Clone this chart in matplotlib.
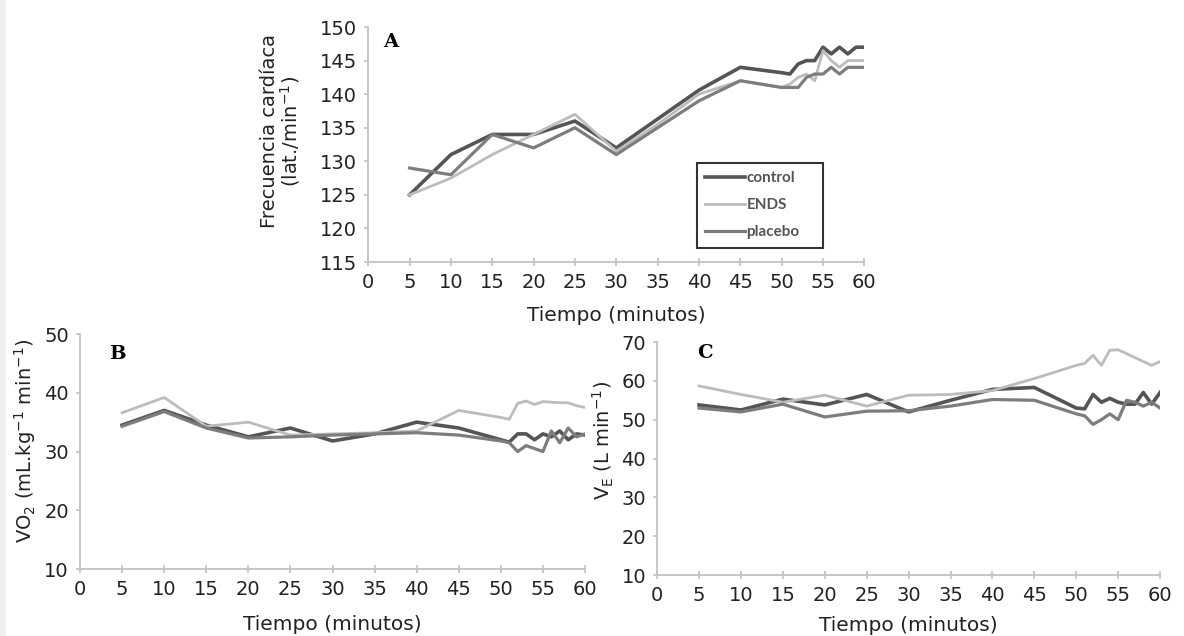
import matplotlib
matplotlib.use('Agg')
import matplotlib.pyplot as plt
from matplotlib.patches import Rectangle

plt.rcParams['font.family'] = ['DejaVu Sans']
plt.rcParams['mathtext.default'] = 'regular'

# ── Data ──
minutos = [5, 10, 15, 20, 25, 30, 35, 40, 45, 50, 51, 52, 53, 54, 55, 56, 57, 58, 59, 60]

# A: frecuencia cardiaca
fc_control = [125, 131, 134, 134, 136, 132, 136.3, 140.6, 144, 143.2, 143, 144.5, 145, 145, 147, 146, 147, 146, 147, 147]
fc_ends    = [125, 127.5, 131, 134, 137, 131.5, 135.5, 140, 142, 141, 141.5, 142.5, 143, 142, 146.5, 145, 144, 145, 145, 145]
fc_placebo = [129, 128, 134, 132, 135, 131, 135, 139, 142, 141, 141, 141, 142.5, 143, 143, 144, 143, 144, 144, 144]

# B: VO2
vo2_control = [34.5, 37, 34.5, 32.5, 34, 31.8, 33, 35, 34, 32, 31.6, 33, 33, 32, 33, 32.5, 33.5, 32, 33, 32.8]
vo2_ends    = [36.6, 39.2, 34.3, 35, 32.8, 33, 33.2, 33.5, 37, 35.8, 35.5, 38.2, 38.6, 38, 38.5, 38.4, 38.3, 38.3, 37.8, 37.5]
vo2_placebo = [34.3, 36.8, 34, 32.3, 32.5, 32.8, 33, 33.2, 32.8, 31.8, 31.5, 30, 31, 30.5, 30, 33.5, 31.5, 34, 32.5, 33]

# C: VE
ve_control = [53.8, 52.5, 55.3, 53.8, 56.5, 52, 55, 57.8, 58.3, 53, 52.8, 56.5, 54.5, 55.5, 54.5, 54, 54, 57, 54, 57]
ve_ends    = [58.7, 56.5, 54.5, 56.3, 53.5, 56.3, 56.5, 57.5, 60.6, 64, 64.5, 66.6, 64, 67.9, 68, 67, 66, 65, 64, 65]
ve_placebo = [53, 52, 54, 50.7, 52.2, 52.3, 53.5, 55.2, 55, 51.5, 51, 48.8, 50, 51.5, 50, 55, 54.5, 53.5, 54.5, 53]

xticks = list(range(0, 61, 5))

C_CONTROL = '#555555'
C_ENDS = '#bcbcbc'
C_PLACEBO = '#7d7d7d'
SPINE = '#c2c2c2'
TXT = '#222222'


def style_axis(ax, ylim, yticks):
    ax.set_xlim(0, 60)
    ax.set_ylim(*ylim)
    ax.set_xticks(xticks)
    ax.set_yticks(yticks)
    ax.tick_params(labelsize=14, colors=SPINE, labelcolor=TXT, width=1.2)
    ax.tick_params(axis='x', direction='inout', length=6, pad=5)
    ax.tick_params(axis='y', direction='out', length=3, pad=5)
    for s in ['top', 'right']:
        ax.spines[s].set_visible(False)
    for s in ['left', 'bottom']:
        ax.spines[s].set_color(SPINE)
        ax.spines[s].set_linewidth(1.3)


def draw(ax, ctrl, ends, plac):
    ax.plot(minutos, ctrl, color=C_CONTROL, lw=2.6, label='control', solid_joinstyle='round')
    ax.plot(minutos, ends, color=C_ENDS, lw=2.0, label='ENDS', solid_joinstyle='round')
    ax.plot(minutos, plac, color=C_PLACEBO, lw=2.3, label='placebo', solid_joinstyle='round')


fig = plt.figure(figsize=(11.84, 6.36), dpi=100)
# light strip at the left edge
fig.patches.append(Rectangle((0, 0), 6 / 1184, 1, transform=fig.transFigure,
                             facecolor='#f0f0f0', edgecolor='none'))

# ── Panel A ──
axA = fig.add_axes([0.311, 0.588, 0.419, 0.3695])
draw(axA, fc_control, fc_ends, fc_placebo)
style_axis(axA, (115, 150), range(115, 151, 5))
axA.set_xlabel('Tiempo (minutos)', fontsize=14.5, color=TXT)
axA.xaxis.set_label_coords(0.5, -0.185)
axA.set_ylabel('Frecuencia cardíaca\n(lat./min$^{-1}$)', fontsize=14, color=TXT,
               linespacing=0.95)
axA.yaxis.set_label_coords(-0.133, 0.557)
axA.text(0.045, 0.935, 'A', transform=axA.transAxes, fontsize=14, fontweight='bold',
         family='DejaVu Serif', va='center', ha='center')
leg = axA.legend(loc='upper left', bbox_to_anchor=(0.662, 0.423, 0.255, 0.0), mode='expand',
                 prop={'family': 'Lato', 'size': 11, 'weight': 'bold'},
                 frameon=True, fancybox=False, edgecolor='black',
                 handlelength=2.6, handletextpad=0.1, labelspacing=0.86, borderpad=0.55,
                 borderaxespad=0)
leg.get_frame().set_linewidth(1.5)
for t in leg.get_texts():
    t.set_color('#555555')

# ── Panel B ──
axB = fig.add_axes([0.0676, 0.1053, 0.4265, 0.3695])
draw(axB, vo2_control, vo2_ends, vo2_placebo)
style_axis(axB, (10, 50), range(10, 51, 10))
axB.set_xlabel('Tiempo (minutos)', fontsize=14.5, color=TXT)
axB.xaxis.set_label_coords(0.5, -0.195)
axB.set_ylabel('VO$_2$ (mL.kg$^{-1}$ min$^{-1}$)', fontsize=14, color=TXT)
axB.yaxis.set_label_coords(-0.083, 0.545)
axB.text(0.073, 0.915, 'B', transform=axB.transAxes, fontsize=14, fontweight='bold',
         family='DejaVu Serif', va='center', ha='center')

# ── Panel C ──
axC = fig.add_axes([0.555, 0.0959, 0.4248, 0.3663])
draw(axC, ve_control, ve_ends, ve_placebo)
style_axis(axC, (10, 70), range(10, 71, 10))
axC.set_xlabel('Tiempo (minutos)', fontsize=14.5, color=TXT)
axC.xaxis.set_label_coords(0.5, -0.175)
axC.set_ylabel('V$_E$ (L min$^{-1}$)', fontsize=14, color=TXT)
axC.yaxis.set_label_coords(-0.0815, 0.576)
axC.text(0.095, 0.953, 'C', transform=axC.transAxes, fontsize=14, fontweight='bold',
         family='DejaVu Serif', va='center', ha='center')

fig.savefig('out.png', dpi=100, facecolor='white')
plt.close()
